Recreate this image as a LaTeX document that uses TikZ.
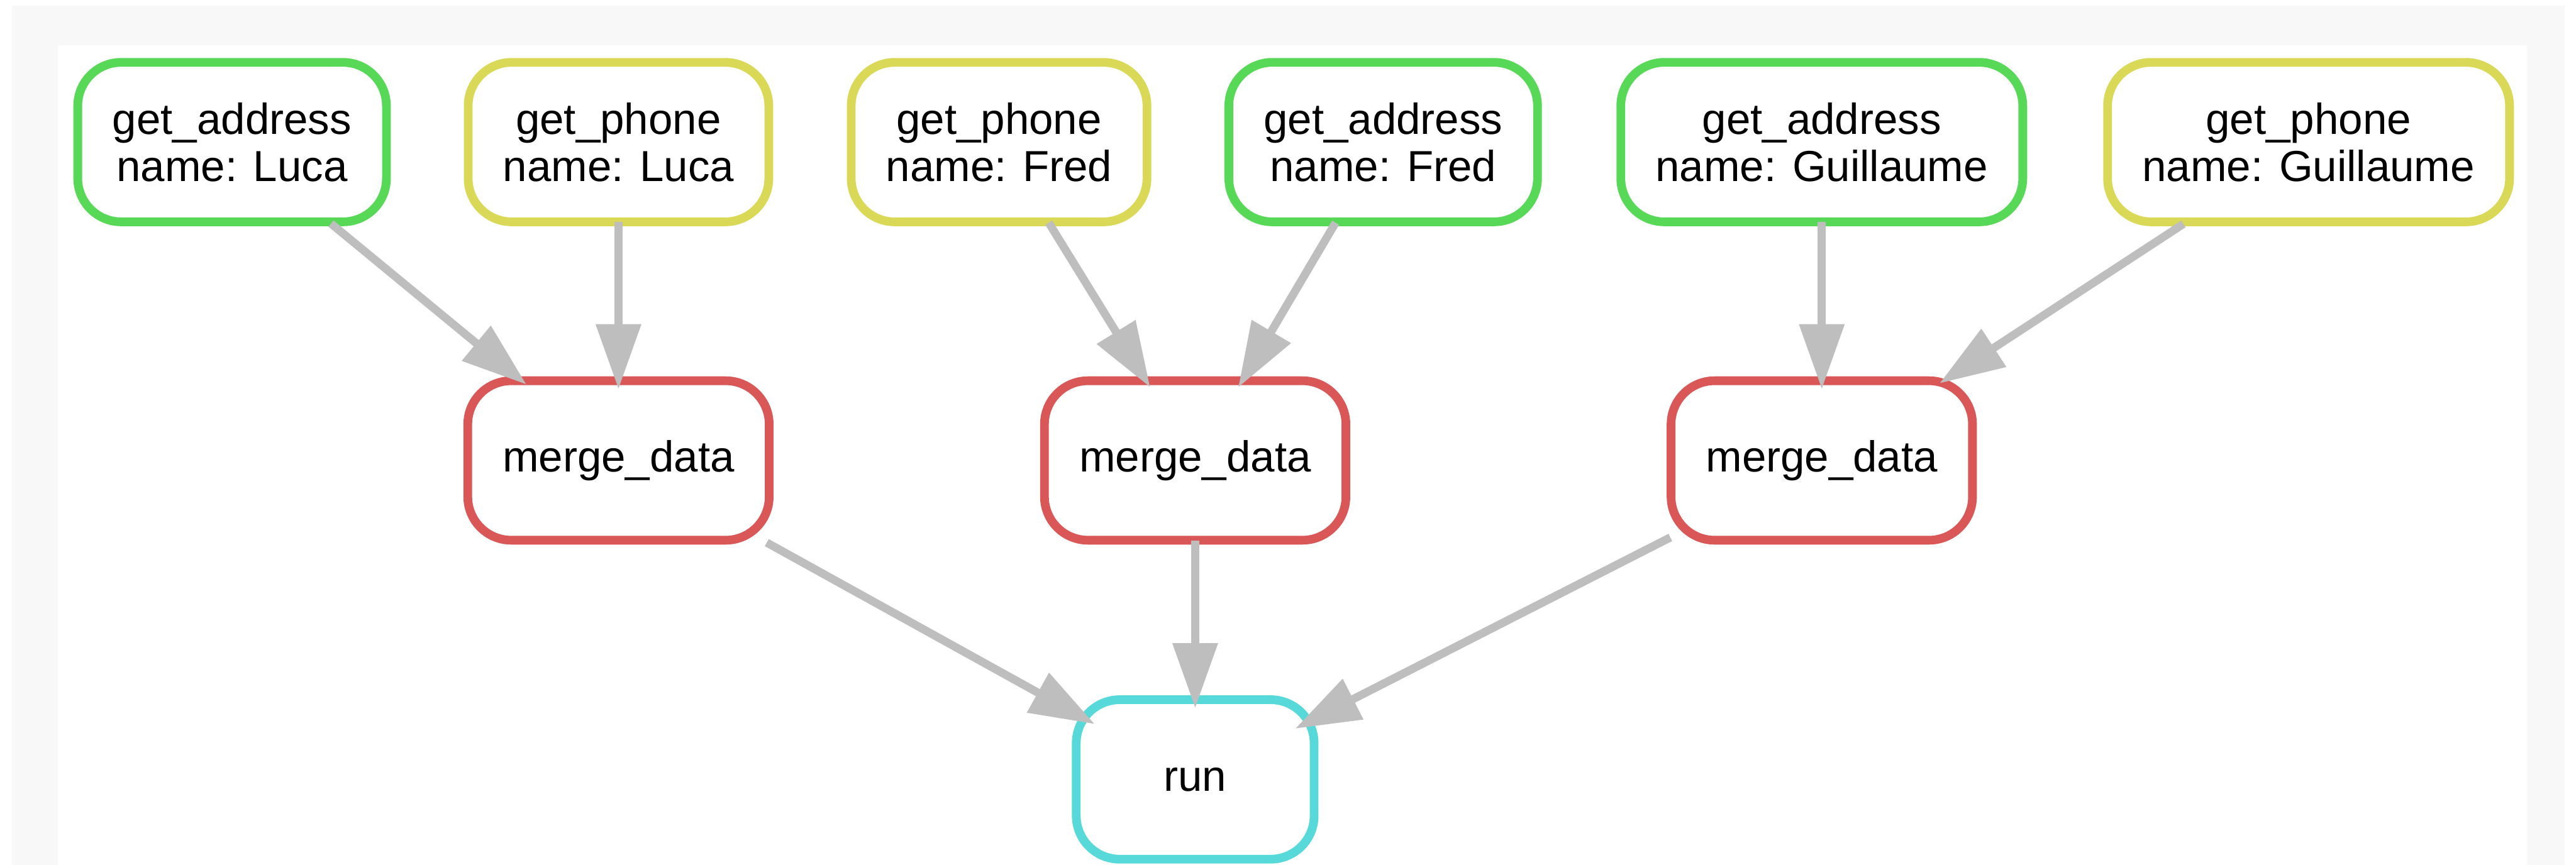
\documentclass[tikz,border=0pt]{standalone}
\usepackage{fontspec}
\setmainfont{Liberation Sans}
\usetikzlibrary{arrows.meta}

\definecolor{rulered}{HTML}{D95757}
\definecolor{ruleyellow}{HTML}{D9D957}
\definecolor{rulegreen}{HTML}{57D957}
\definecolor{rulecyan}{HTML}{57D9D9}
\definecolor{edgegrey}{HTML}{BEBEBE}
\definecolor{pagegrey}{HTML}{F8F8F8}

\begin{document}
\begin{tikzpicture}[
	rule/.style = {draw, line width=0.15cm, rounded corners=0.75cm, fill=white,
		minimum height=2.75cm, minimum width=4.1cm, inner xsep=0.6cm, align=center,
		font=\fontsize{21.3pt}{23pt}\selectfont},
	addr/.style = {rule, draw=rulegreen},
	phone/.style = {rule, draw=ruleyellow},
	merge/.style = {rule, draw=rulered},
	final/.style = {rule, draw=rulecyan},
	dep/.style = {draw=edgegrey, line width=0.14cm, shorten <=-0.07cm, shorten >=-0.22cm,
		-{Triangle[length=1.12cm, width=0.75cm]}}]
			\useasboundingbox (0,0) rectangle (44.40,-14.91);
			\fill[pagegrey] (0.21,-0.10) rectangle (44.20,-14.91);
			\fill[white] (1.00,-0.78) rectangle (43.55,-14.91);

			\node[addr] (a1) at (4.00,-2.45) {get\_address\\name: Luca};
			\node[phone] (p1) at (10.66,-2.45) {get\_phone\\name: Luca};
			\node[phone] (p2) at (17.22,-2.45) {get\_phone\\name: Fred};
			\node[addr] (a2) at (23.84,-2.45) {get\_address\\name: Fred};
			\node[addr] (a3) at (31.40,-2.45) {get\_address\\name: Guillaume};
			\node[phone] (p3) at (39.79,-2.45) {get\_phone\\name: Guillaume};

			\node[merge] (m1) at (10.66,-7.94) {merge\_data};
			\node[merge] (m2) at (20.60,-7.94) {merge\_data};
			\node[merge] (m3) at (31.40,-7.94) {merge\_data};

			\node[final] (run) at (20.60,-13.44) {run};

			\draw[dep] (a1) to (m1);
			\draw[dep] (p1) to (m1);
			\draw[dep] (p2) to (m2);
			\draw[dep] (a2) to (m2);
			\draw[dep] (a3) to (m3);
			\draw[dep] (p3) to (m3);
			\draw[dep] (m2) to (run);
			% corner hits on the rounded box, so reach a bit further in
			\draw[dep, shorten >=-0.45cm] (m1) to (run);
			\draw[dep, shorten >=-0.45cm] (m3) to (run);
		\end{tikzpicture}
\end{document}
